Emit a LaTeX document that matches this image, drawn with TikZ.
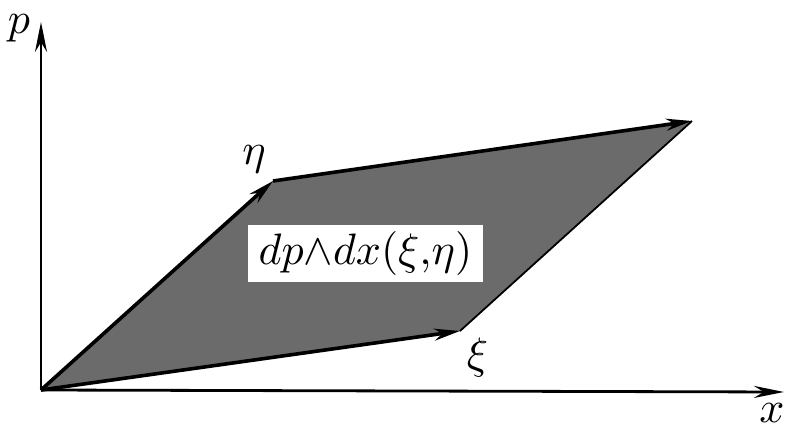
\documentclass[tikz,border=0pt]{standalone}
\usetikzlibrary{arrows.meta}
\newcommand{\myscaledmath}[1]{\scalebox{2.2}{$#1$}}
\begin{document}
\begin{tikzpicture}[x=0.5pt,y=-0.5pt,
  lbl/.style={inner sep=0pt},
  axisline/.style={line width=1.4pt, -{Stealth[length=15pt,width=6pt]}},
  vec/.style={line width=1.8pt, -{Stealth[length=13pt,width=6pt]}},
  formbox/.style={fill=white, minimum width=117.5pt, minimum height=28.5pt, inner sep=0pt}]
\useasboundingbox (0,0) rectangle (789,428);
\coordinate (O) at (41,390);
\coordinate (Xi) at (460,331);
\coordinate (Eta) at (273,181);
\coordinate (S) at (692,121);
\coordinate (P) at (41,22);
\coordinate (X) at (784,392);
\fill[black!58] (O) -- (Xi) -- (S) -- (Eta) -- cycle;
\draw[line width=0.9pt] (Xi) -- (S);
\draw[axisline] (O) -- (P);
\draw[axisline] (O) -- (X);
\draw[vec] (O) -- (Xi);
\draw[vec] (O) -- (Eta);
\draw[vec] (Eta) -- (S);
\node[formbox] (form) at (365.5,253.5) {\myscaledmath{dp{\wedge}dx(\xi{,}\eta)}};
\node[lbl, anchor=base] (lp) at (19,33) {\myscaledmath{p}};
\node[lbl, anchor=base] (leta) at (254,164) {\myscaledmath{\eta}};
\node[lbl, anchor=base] (lxi) at (477.5,368) {\myscaledmath{\xi}};
\node[lbl, anchor=base] (lx) at (772,422) {\myscaledmath{x}};
\end{tikzpicture}
\end{document}
